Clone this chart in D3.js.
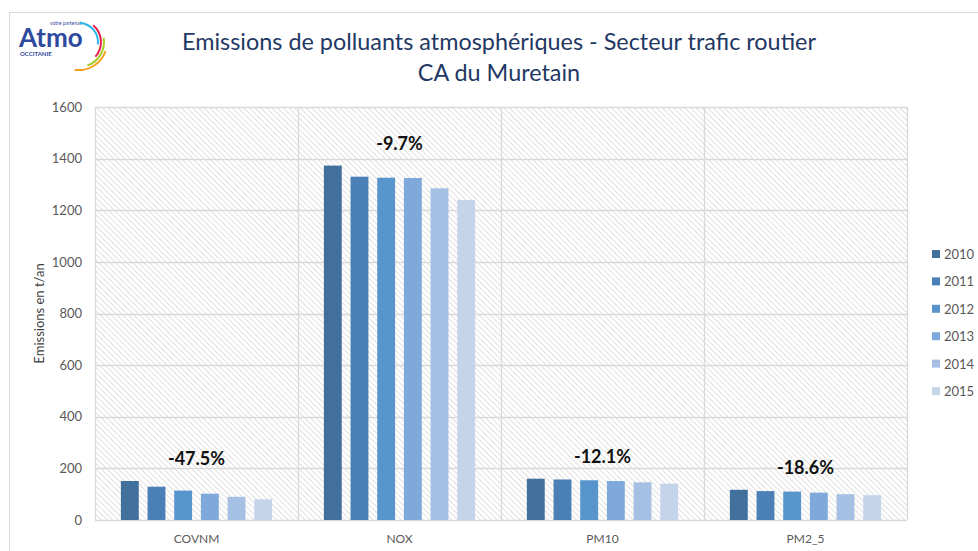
<!DOCTYPE html>
<html>
<head>
<meta charset="utf-8">
<script src="https://cdn.jsdelivr.net/npm/d3@7"></script>
<style>
  body { margin: 0; background: #fff; }
  text { font-family: Lato, "Open Sans", sans-serif; }
</style>
</head>
<body>
<svg id="chart" width="978" height="551"></svg>
<script>
// data
var categories = ["COVNM", "NOX", "PM10", "PM2_5"];
var years = ["2010", "2011", "2012", "2013", "2014", "2015"];
var covnm = [151, 129, 114, 102, 90, 80];
var nox = [1373, 1330, 1326, 1325, 1285, 1240];
var pm10 = [160, 157, 154, 151, 146, 141];
var pm25 = [117, 112, 110, 106, 100, 96];
var changeLabels = ["-47.5%", "-9.7%", "-12.1%", "-18.6%"];
var yTicks = [0, 200, 400, 600, 800, 1000, 1200, 1400, 1600];
var yearColors = ["#41709c", "#4a80b6", "#5795cc", "#7ea9da", "#a6c0e3", "#c4d4eb"];

var series = [covnm, nox, pm10, pm25];

var svg = d3.select("#chart");
var margin = {top: 107, left: 95, right: 71, bottom: 31};
var width = 978 - margin.left - margin.right;
var height = 551 - margin.top - margin.bottom;

// hatch pattern for plot background
var defs = svg.append("defs");
var pat = defs.append("pattern")
    .attr("id", "hatch")
    .attr("patternUnits", "userSpaceOnUse")
    .attr("width", 4).attr("height", 4)
    .attr("patternTransform", "rotate(-45)");
pat.append("rect").attr("width", 4).attr("height", 4).attr("fill", "#fff");
pat.append("line")
    .attr("x1", 0).attr("y1", 0).attr("x2", 0).attr("y2", 4)
    .attr("stroke", "#d9d9d9").attr("stroke-width", 1.6);

// outer frame
svg.append("path")
    .attr("d", "M9.5,551 L9.5,12.5 L978,12.5")
    .attr("fill", "none").attr("stroke", "#d9d9d9").attr("stroke-width", 1);

// logo
var logo = svg.append("g").attr("transform", "translate(20,20)");
logo.append("text").attr("x", -1).attr("y", 27)
    .style("font-size", "26px").style("font-weight", "bold")
    .attr("fill", "#2e4a9e").text("Atmo");
logo.append("text").attr("x", 30).attr("y", 5)
    .style("font-size", "5px").attr("fill", "#2e4a9e").text("votre partenair");
logo.append("text").attr("x", 0).attr("y", 36)
    .style("font-size", "6px").style("font-weight", "bold")
    .attr("fill", "#2e4a9e").text("OCCITANIE");
var arcs = [
  {r: 19, a0: 0.05, a1: 1.7, c: "#29b6e8"},
  {r: 22, a0: 0.7, a1: 2.3, c: "#e4204e"},
  {r: 25, a0: 1.4, a1: 2.8, c: "#a8cd2e"},
  {r: 28, a0: 1.9, a1: 3.3, c: "#f5a21b"}
];
logo.selectAll("path.arc").data(arcs).enter().append("path")
    .attr("transform", "translate(59,22)")
    .attr("d", function(d) {
      return d3.arc().innerRadius(d.r - 1).outerRadius(d.r + 1)
        .startAngle(d.a0).endAngle(d.a1)();
    })
    .attr("fill", function(d) { return d.c; });

// title
svg.append("text").attr("x", 499).attr("y", 50)
    .attr("text-anchor", "middle").style("font-size", "23.4px").attr("fill", "#1f3864")
    .text("Emissions de polluants atmosphériques - Secteur trafic routier");
svg.append("text").attr("x", 499).attr("y", 81)
    .attr("text-anchor", "middle").style("font-size", "23.4px").attr("fill", "#1f3864")
    .text("CA du Muretain");

var g = svg.append("g").attr("transform", "translate(" + margin.left + "," + margin.top + ")");

var x0 = d3.scaleBand().domain(categories).range([0, width]);
var x1 = d3.scaleBand().domain(years).range([0, x0.bandwidth()])
    .paddingInner(0.33).paddingOuter(0.97);
var y = d3.scaleLinear().domain([0, 1600]).range([height, 0]);

g.append("rect").attr("width", width).attr("height", height).attr("fill", "url(#hatch)");

// horizontal gridlines
g.selectAll("line.hgrid").data(yTicks).enter().append("line")
    .attr("x1", 0).attr("x2", width)
    .attr("y1", function(d) { return Math.round(y(d)) + 0.5; })
    .attr("y2", function(d) { return Math.round(y(d)) + 0.5; })
    .attr("stroke", "#d9d9d9").attr("stroke-width", 1.3);
// vertical category separators
var seps = categories.map(function(c) { return x0(c); }).concat([width]);
g.selectAll("line.vgrid").data(seps).enter().append("line")
    .attr("x1", function(d) { return Math.round(d) + 0.5; })
    .attr("x2", function(d) { return Math.round(d) + 0.5; })
    .attr("y1", 0).attr("y2", height)
    .attr("stroke", "#d9d9d9").attr("stroke-width", 1.3);

// bars
var groups = g.selectAll("g.cat").data(categories).enter().append("g")
    .attr("transform", function(d) { return "translate(" + x0(d) + ",0)"; });
groups.selectAll("rect").data(function(d, i) {
    return years.map(function(yr, j) { return {year: yr, value: series[i][j], k: j}; });
  }).enter().append("rect")
    .attr("x", function(d) { return x1(d.year); })
    .attr("width", x1.bandwidth())
    .attr("y", function(d) { return y(d.value); })
    .attr("height", function(d) { return height - y(d.value); })
    .attr("fill", function(d) { return yearColors[d.k]; });

// change labels
groups.append("text")
    .attr("x", x0.bandwidth() / 2)
    .attr("y", function(d, i) { return y(d3.max(series[i])) - 16; })
    .attr("text-anchor", "middle")
    .style("font-size", "18px").style("font-weight", "bold").attr("fill", "#111")
    .text(function(d, i) { return changeLabels[i]; });

// y axis
var yAxis = g.append("g").call(d3.axisLeft(y).tickValues(yTicks)
    .tickFormat(d3.format("d")).tickSize(0).tickPadding(13));
yAxis.select(".domain").remove();
yAxis.selectAll("text").style("font-size", "13px").attr("fill", "#595959")
    .style("font-family", "Lato, sans-serif");

// x axis
var xAxis = g.append("g").attr("transform", "translate(0," + height + ")")
    .call(d3.axisBottom(x0).tickSize(0).tickPadding(14));
xAxis.select(".domain").remove();
xAxis.selectAll("text").style("font-size", "12px").attr("fill", "#595959")
    .style("font-family", "Lato, sans-serif");

// y title
svg.append("text")
    .attr("transform", "translate(44," + (margin.top + height / 2) + ") rotate(-90)")
    .attr("text-anchor", "middle").style("font-size", "13px").attr("fill", "#404040")
    .text("Emissions en t/an");

// legend
var legend = svg.append("g").attr("transform", "translate(932,255)");
var li = legend.selectAll("g").data(years).enter().append("g")
    .attr("transform", function(d, i) { return "translate(0," + (i * 27.4) + ")"; });
li.append("rect").attr("x", 0).attr("y", -5).attr("width", 8).attr("height", 8)
    .attr("fill", function(d, i) { return yearColors[i]; });
li.append("text").attr("x", 12).attr("y", 4)
    .style("font-size", "13px").attr("fill", "#595959").text(function(d) { return d; });
</script>
</body>
</html>
